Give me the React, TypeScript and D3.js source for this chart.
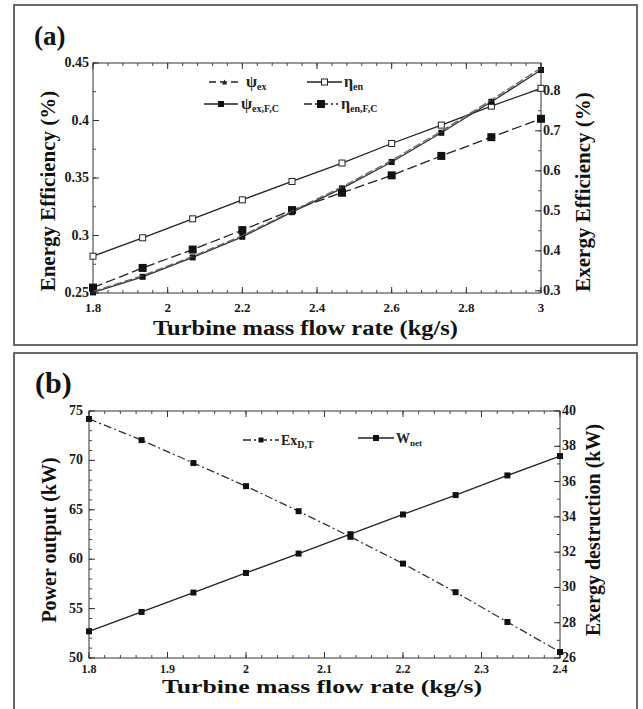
import React from 'react';
import * as d3 from 'd3';

// panel (a): turbine mass flow rate vs efficiencies
const A_X = [1.8, 1.933, 2.067, 2.2, 2.333, 2.467, 2.6, 2.733, 2.867, 3.0];
const A_ETA_EN = [0.282, 0.298, 0.3145, 0.331, 0.347, 0.363, 0.38, 0.396, 0.4125, 0.428];
const A_ETA_EN_FC = [0.2547, 0.2718, 0.2878, 0.3047, 0.3221, 0.3372, 0.3523, 0.3692, 0.3855, 0.4015];
const A_PSI_EX_FC = [0.296, 0.335, 0.3835, 0.435, 0.4965, 0.556, 0.622, 0.695, 0.7725, 0.852];
const A_PSI_EX = [0.298, 0.338, 0.386, 0.438, 0.499, 0.56, 0.626, 0.699, 0.777, 0.857];
const A_XTICKS = [1.8, 2, 2.2, 2.4, 2.6, 2.8, 3];
const A_LTICKS = [0.25, 0.3, 0.35, 0.4, 0.45];
const A_RTICKS = [0.3, 0.4, 0.5, 0.6, 0.7, 0.8];

// panel (b): power output and exergy destruction
const B_X = [1.8, 1.867, 1.933, 2.0, 2.067, 2.133, 2.2, 2.267, 2.333, 2.4];
const B_WNET = [52.7, 54.66, 56.62, 58.61, 60.57, 62.53, 64.53, 66.49, 68.48, 70.44];
const B_EXD = [39.55, 38.35, 37.05, 35.74, 34.32, 32.87, 31.35, 29.73, 28.04, 26.34];
const B_XTICKS = [1.8, 1.9, 2, 2.1, 2.2, 2.3, 2.4];
const B_LTICKS = [50, 55, 60, 65, 70, 75];
const B_RTICKS = [26, 28, 30, 32, 34, 36, 38, 40];

const FONT = '"Liberation Serif", "Times New Roman", serif';
const INK = '#222';

const range = (a: number, b: number, step: number) => {
  const out: number[] = [];
  const n = Math.round((b - a) / step);
  for (let i = 0; i <= n; i++) out.push(+(a + i * step).toFixed(4));
  return out;
};
const fmt = (v: number) => String(+v.toFixed(3));

function Frame({ x, left, right, minorX, minorL, minorR, xTicks, lTicks, rTicks, lblPadL, lblPadR, xLblY, xLblSize }: any) {
  const [x0, x1] = x.range();
  const [y0, y1] = left.range(); // y0 bottom, y1 top
  return (
    <g fontFamily={FONT} fontWeight="bold" fill="#1a1a1a">
      <rect x={x0} y={y1} width={x1 - x0} height={y0 - y1} fill="none" stroke="#333" strokeWidth={1} />
      {minorX.map((v: number) => (
        <g key={'mx' + v} stroke="#444">
          <line x1={x(v)} x2={x(v)} y1={y0} y2={y0 - 3} />
          <line x1={x(v)} x2={x(v)} y1={y1} y2={y1 + 3} />
        </g>
      ))}
      {xTicks.map((v: number) => (
        <g key={'x' + v}>
          <line x1={x(v)} x2={x(v)} y1={y0} y2={y0 - 6} stroke="#333" />
          <line x1={x(v)} x2={x(v)} y1={y1} y2={y1 + 6} stroke="#333" />
          <text x={x(v)} y={xLblY} fontSize={xLblSize} textAnchor="middle">{fmt(v)}</text>
        </g>
      ))}
      {minorL.map((v: number) => (
        <line key={'ml' + v} x1={x0} x2={x0 + 3} y1={left(v)} y2={left(v)} stroke="#444" />
      ))}
      {lTicks.map((v: number) => (
        <g key={'l' + v}>
          <line x1={x0} x2={x0 + 6} y1={left(v)} y2={left(v)} stroke="#333" />
          <text x={x0 - lblPadL} y={left(v) + 4} fontSize={14} textAnchor="end">{fmt(v)}</text>
        </g>
      ))}
      {minorR.map((v: number) => (
        <line key={'mr' + v} x1={x1} x2={x1 - 3} y1={right(v)} y2={right(v)} stroke="#444" />
      ))}
      {rTicks.map((v: number) => (
        <g key={'r' + v}>
          <line x1={x1} x2={x1 - 6} y1={right(v)} y2={right(v)} stroke="#333" />
          <text x={x1 + lblPadR} y={right(v) + 4} fontSize={14} textAnchor="start">{fmt(v)}</text>
        </g>
      ))}
    </g>
  );
}

function Series({ xs, ys, x, y, dash, marker, size, width = 1.3, color = INK }: any) {
  const line = d3.line<number>().x((_, i) => x(xs[i])).y((d) => y(d));
  return (
    <g>
      <path d={line(ys) || ''} fill="none" stroke={color} strokeWidth={width} strokeDasharray={dash} />
      {ys.map((v: number, i: number) => (
        <Marker key={i} cx={x(xs[i])} cy={y(v)} kind={marker} size={size} />
      ))}
    </g>
  );
}

function Marker({ cx, cy, kind, size }: any) {
  if (kind === 'open')
    return <rect x={cx - size / 2} y={cy - size / 2} width={size} height={size} fill="#fff" stroke={INK} strokeWidth={1} />;
  if (kind === 'tri')
    return <path d={`M${cx - size / 2},${cy + size / 2}L${cx},${cy - size / 2}L${cx + size / 2},${cy + size / 2}Z`} fill={INK} />;
  return <rect x={cx - size / 2} y={cy - size / 2} width={size} height={size} fill="#111" />;
}

function LegendItem({ x1, x2, y, dash, marker, size, tx, main, sub, mainSize = 16, subSize = 10 }: any) {
  return (
    <g>
      <line x1={x1} x2={x2} y1={y} y2={y} stroke={INK} strokeWidth={1.3} strokeDasharray={dash} />
      <Marker cx={(x1 + x2) / 2} cy={y} kind={marker} size={size} />
      <text x={tx} y={y + 5} fontFamily={FONT} fontWeight="bold" fontSize={mainSize} fill={INK}>
        {main}
        <tspan fontSize={subSize} dy={3}>{sub}</tspan>
      </text>
    </g>
  );
}

export default function App() {
  // panel (a) scales
  const ax = d3.scaleLinear().domain([1.8, 3.0]).range([93, 541]);
  const ayL = d3.scaleLinear().domain([0.25, 0.45]).range([293, 63]);
  const ayR = d3.scaleLinear().domain([0.2945, 0.8695]).range([293, 63]);

  // panel (b) scales
  const bx = d3.scaleLinear().domain([1.8, 2.4]).range([89, 560]);
  const byL = d3.scaleLinear().domain([50, 75]).range([658, 411]);
  const byR = d3.scaleLinear().domain([26, 40]).range([658, 411]);

  return (
    <svg width={643} height={709} style={{ position: 'absolute', left: 0, top: 0, background: '#fff' }}>
      <rect x={0} y={0} width={643} height={709} fill="#fff" />
      {/* panel borders */}
      <rect x={14} y={5} width={623} height={340} fill="none" stroke="#444" strokeWidth={1.6} />
      <rect x={14} y={353} width={623} height={370} fill="none" stroke="#444" strokeWidth={1.6} />

      {/* ---------- (a) ---------- */}
      <text x={34} y={45} fontFamily={FONT} fontWeight="bold" fontSize={27} fill="#111">(a)</text>
      <Frame
        x={ax} left={ayL} right={ayR}
        minorX={range(1.8, 3.0, 0.04)} minorL={range(0.25, 0.45, 0.025)} minorR={range(0.3, 0.85, 0.05)}
        xTicks={A_XTICKS} lTicks={A_LTICKS} rTicks={A_RTICKS}
        lblPadL={4} lblPadR={2} xLblY={312} xLblSize={13}
      />
      <Series xs={A_X} ys={A_ETA_EN} x={ax} y={ayL} marker="open" size={6} />
      <Series xs={A_X} ys={A_ETA_EN_FC} x={ax} y={ayL} dash="10,4" marker="fill" size={8} />
      <Series xs={A_X} ys={A_PSI_EX_FC} x={ax} y={ayR} marker="fill" size={6} color="#333" />
      <Series xs={A_X} ys={A_PSI_EX} x={ax} y={ayR} dash="8,3" marker="tri" size={4} color="#666" />
      <LegendItem x1={209} x2={240} y={82} dash="7,4" marker="tri" size={5} tx={246} main="ψ" sub="ex" />
      <LegendItem x1={307} x2={342} y={82} marker="open" size={6} tx={344} main="η" sub="en" />
      <LegendItem x1={204} x2={238} y={104} marker="fill" size={6} tx={241} main="ψ" sub="ex,F,C" />
      <LegendItem x1={304} x2={338} y={104} dash="8,3,2,3" marker="fill" size={8} tx={341} main="η" sub="en,F,C" />
      <text transform="translate(55,191) rotate(-90)" textAnchor="middle" fontFamily={FONT} fontWeight="bold" fontSize={21} fill="#111">
        Energy Efficiency (%)
      </text>
      <text transform="translate(590,192) rotate(-90)" textAnchor="middle" fontFamily={FONT} fontWeight="bold" fontSize={21} fill="#111">
        Exergy Efficiency (%)
      </text>
      <text x={153} y={335} textLength={305} lengthAdjust="spacingAndGlyphs" fontFamily={FONT} fontWeight="bold" fontSize={20} fill="#111">
        Turbine mass flow rate (kg/s)
      </text>

      {/* ---------- (b) ---------- */}
      <text x={35} y={393} fontFamily={FONT} fontWeight="bold" fontSize={30} fill="#111">(b)</text>
      <Frame
        x={bx} left={byL} right={byR}
        minorX={range(1.8, 2.4, 0.02)} minorL={range(50, 75, 1)} minorR={range(26, 40, 1)}
        xTicks={B_XTICKS} lTicks={B_LTICKS} rTicks={B_RTICKS}
        lblPadL={6} lblPadR={2} xLblY={673} xLblSize={12}
      />
      <Series xs={B_X} ys={B_EXD} x={bx} y={byR} dash="8,3,2,3" marker="fill" size={6} color="#333" />
      <Series xs={B_X} ys={B_WNET} x={bx} y={byL} marker="fill" size={6} />
      <LegendItem x1={243} x2={279} y={440} dash="8,3,2,3" marker="fill" size={5} tx={281} main="Ex" sub="D,T" mainSize={14} subSize={10} />
      <LegendItem x1={358} x2={394} y={438} marker="fill" size={6} tx={396} main="W" sub="net" mainSize={14} subSize={9} />
      <text transform="translate(56,540) rotate(-90)" textAnchor="middle" fontFamily={FONT} fontWeight="bold" fontSize={20} fill="#111">
        Power output (kW)
      </text>
      <text transform="translate(600,530) rotate(-90)" textAnchor="middle" fontFamily={FONT} fontWeight="bold" fontSize={20} fill="#111">
        Exergy destruction (kW)
      </text>
      <text x={162} y={693} textLength={320} lengthAdjust="spacingAndGlyphs" fontFamily={FONT} fontWeight="bold" fontSize={19} fill="#111">
        Turbine mass flow rate (kg/s)
      </text>
    </svg>
  );
}
